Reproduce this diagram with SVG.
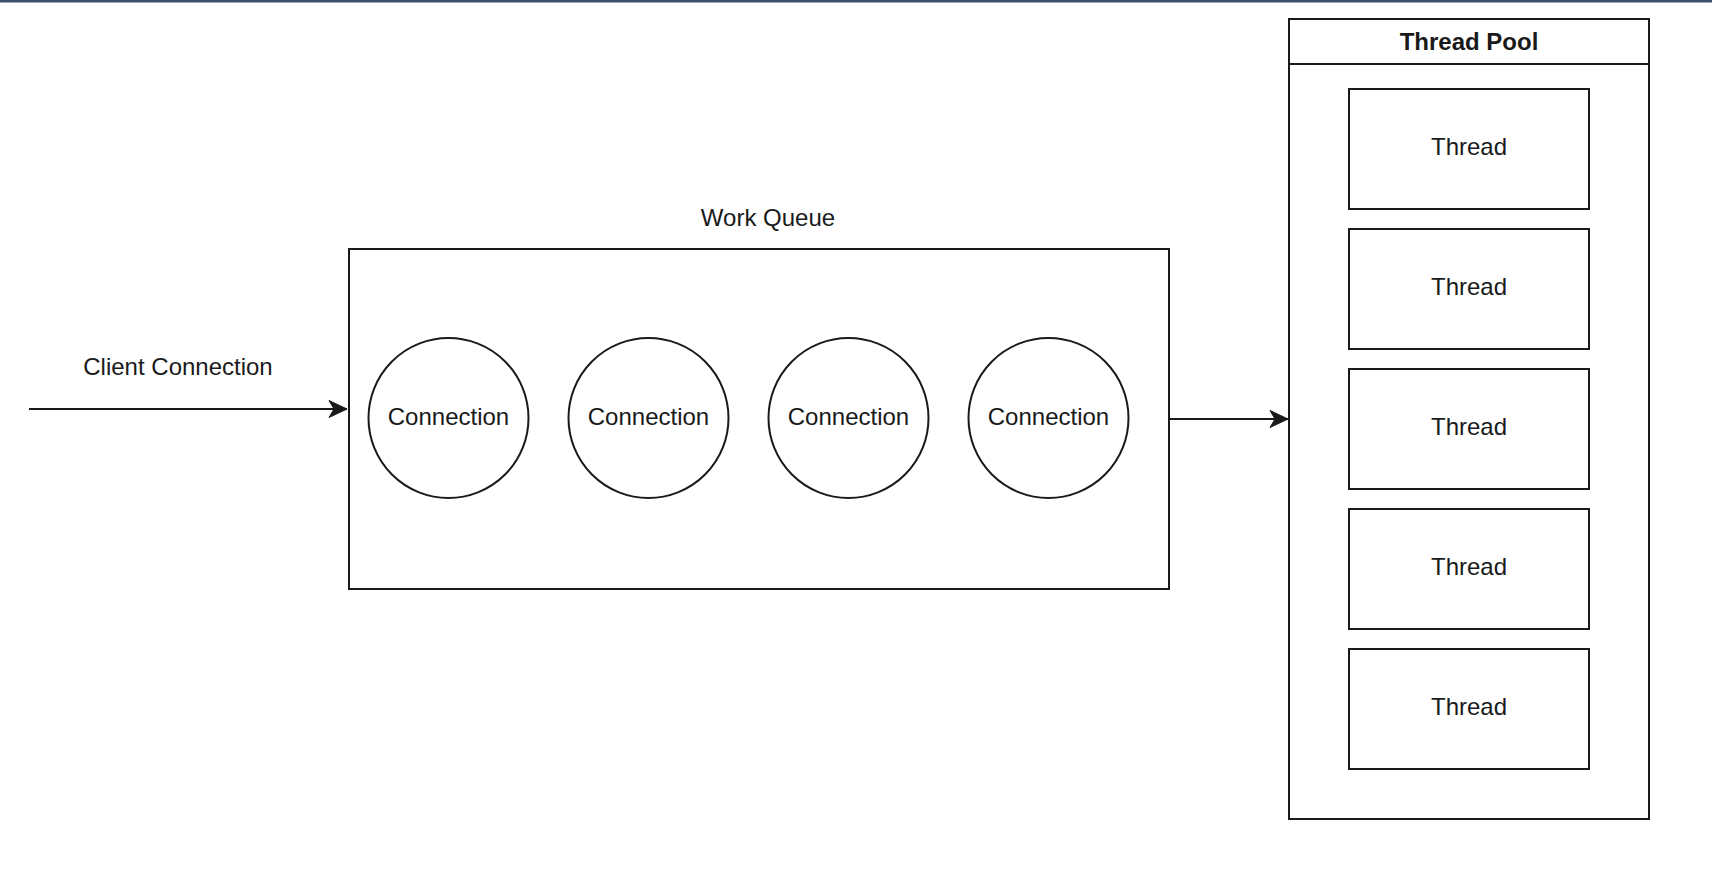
<svg xmlns="http://www.w3.org/2000/svg" width="1712" height="874" viewBox="0 0 1712 874">
<style>
.shape{fill:#ffffff;stroke:#1a1a1a;stroke-width:2}
.t{font-family:"Liberation Sans",Arial,Helvetica,sans-serif;font-size:24px;fill:#1a1a1a;text-anchor:middle}
.b{font-weight:bold}
.edge{fill:none;stroke:#1a1a1a;stroke-width:2}
</style>
<defs>
<marker id="arrow" markerUnits="userSpaceOnUse" markerWidth="20" markerHeight="20" viewBox="-19 -10 20 20" refX="0" refY="0" orient="auto">
<path d="M0,0 L-18,-8.5 L-13,0 L-18,8.5 Z" fill="#1a1a1a" stroke="#1a1a1a" stroke-width="1"/>
</marker>
</defs>
<rect x="0" y="0" width="1712" height="874" fill="#ffffff"/>
<rect x="0" y="0" width="1712" height="2.5" fill="#3d5070"/>
<g id="work-queue">
<rect class="shape" x="349" y="249" width="820" height="340"/>
<text class="t" x="768" y="226">Work Queue</text>
</g>
<g id="connection-1">
<circle class="shape" cx="448.5" cy="418" r="80"/>
<text class="t" x="448.5" y="425">Connection</text>
</g>
<g id="connection-2">
<circle class="shape" cx="648.5" cy="418" r="80"/>
<text class="t" x="648.5" y="425">Connection</text>
</g>
<g id="connection-3">
<circle class="shape" cx="848.5" cy="418" r="80"/>
<text class="t" x="848.5" y="425">Connection</text>
</g>
<g id="connection-4">
<circle class="shape" cx="1048.5" cy="418" r="80"/>
<text class="t" x="1048.5" y="425">Connection</text>
</g>
<g id="thread-pool">
<rect class="shape" x="1289" y="19" width="360" height="800"/>
<line class="edge" x1="1289" y1="64" x2="1649" y2="64"/>
<text class="t b" x="1469" y="50">Thread Pool</text>
</g>
<g id="thread-1">
<rect class="shape" x="1349" y="89" width="240" height="120"/>
<text class="t" x="1469" y="155">Thread</text>
</g>
<g id="thread-2">
<rect class="shape" x="1349" y="229" width="240" height="120"/>
<text class="t" x="1469" y="295">Thread</text>
</g>
<g id="thread-3">
<rect class="shape" x="1349" y="369" width="240" height="120"/>
<text class="t" x="1469" y="435">Thread</text>
</g>
<g id="thread-4">
<rect class="shape" x="1349" y="509" width="240" height="120"/>
<text class="t" x="1469" y="575">Thread</text>
</g>
<g id="thread-5">
<rect class="shape" x="1349" y="649" width="240" height="120"/>
<text class="t" x="1469" y="715">Thread</text>
</g>
<g id="connectors">
<line class="edge" x1="29" y1="409" x2="347" y2="409" marker-end="url(#arrow)"/>
<text class="t" x="178" y="375">Client Connection</text>
<line class="edge" x1="1169" y1="419" x2="1288" y2="419" marker-end="url(#arrow)"/>
</g>
</svg>
